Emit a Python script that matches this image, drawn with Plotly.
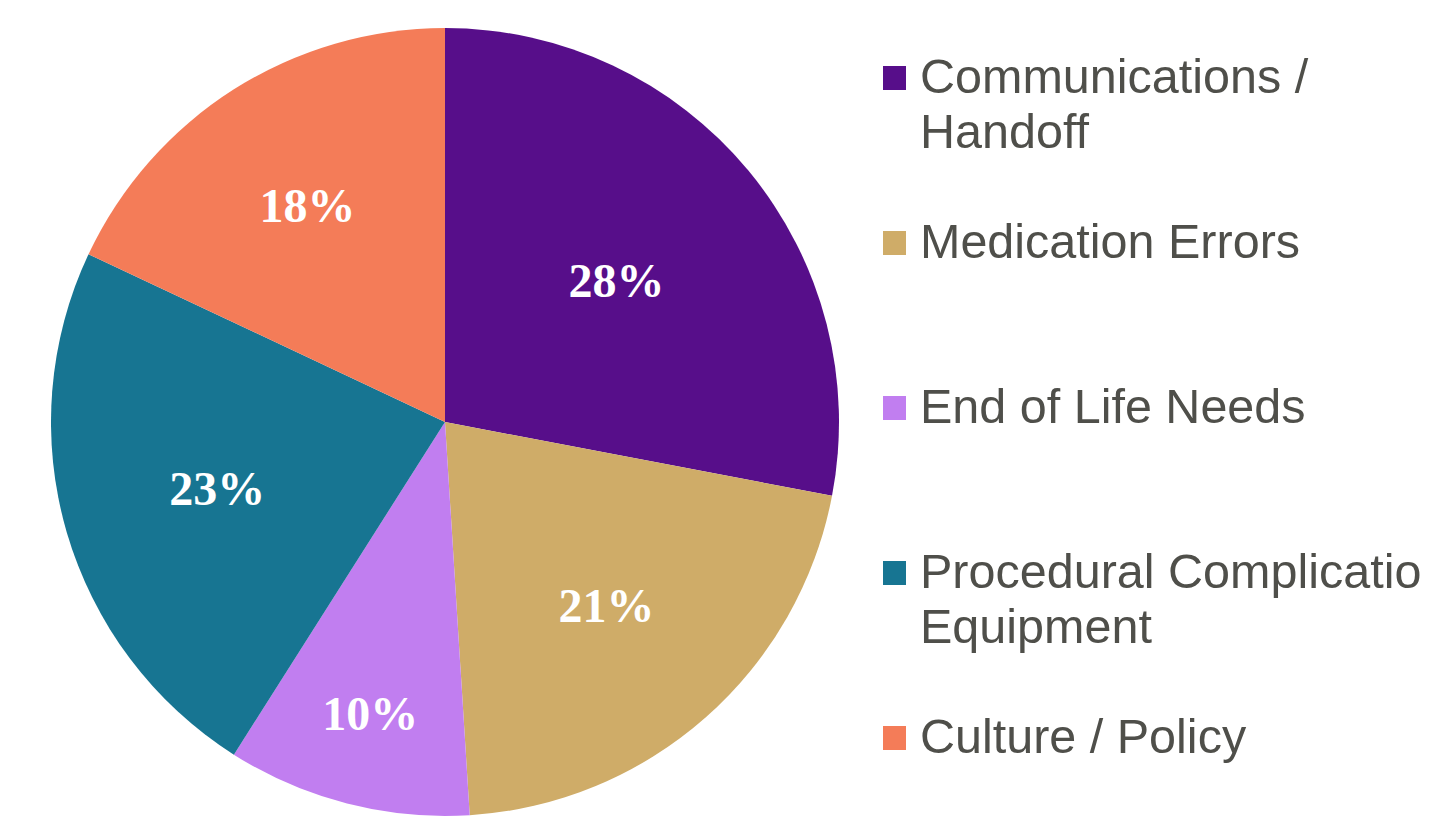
import plotly.graph_objects as go

labels = ["Communications /<br>Handoff", "Medication Errors", "End of Life Needs",
          "Procedural Complications /<br>Equipment", "Culture / Policy"]
values = [28, 21, 10, 23, 18]
colors = ["#570E8A", "#CFAC68", "#C17EF0", "#177592", "#F47C58"]

OFF = 8  # default page body margin
W, H = 1429 - OFF, 827 - OFF


def px(x):
    return (x - OFF) / W


def py(y):
    return 1 - (y - OFF) / H


fig = go.Figure()
fig.add_trace(go.Pie(
    labels=[l.replace("<br>", " ") for l in labels],
    values=values,
    marker=dict(colors=colors, line=dict(width=0)),
    sort=False,
    direction="clockwise",
    rotation=0,
    textinfo="percent",
    texttemplate="%{percent:.0%}",
    textposition="inside",
    insidetextorientation="horizontal",
    textfont=dict(family="Liberation Serif", size=48, color="white", weight="bold"),
    domain=dict(x=[px(50), px(840)], y=[py(816), py(28)]),
    showlegend=False,
    hoverinfo="label+percent",
))

# legend drawn as squares + text
base0 = 92
step = 165
line_gap = 55
annotations = []
shapes = []
for i, (lab, col) in enumerate(zip(labels, colors)):
    b = base0 + i * step
    shapes.append(dict(type="rect", xref="paper", yref="paper",
                       x0=px(883), x1=px(906), y0=py(b - 2), y1=py(b - 26),
                       fillcolor=col, line=dict(width=0)))
    for j, line in enumerate(lab.split("<br>")):
        bl = b + j * line_gap
        annotations.append(dict(text=line, x=px(918), y=py(bl - 16.5),
                                xref="paper", yref="paper", xanchor="left", yanchor="middle",
                                showarrow=False,
                                font=dict(family="Liberation Sans", size=48.5, color="#4F4F4A")))

fig.update_layout(
    width=W, height=H,
    margin=dict(l=0, r=0, t=0, b=0),
    paper_bgcolor="white", plot_bgcolor="white",
    annotations=annotations, shapes=shapes,
)
fig.write_html("out.html")
